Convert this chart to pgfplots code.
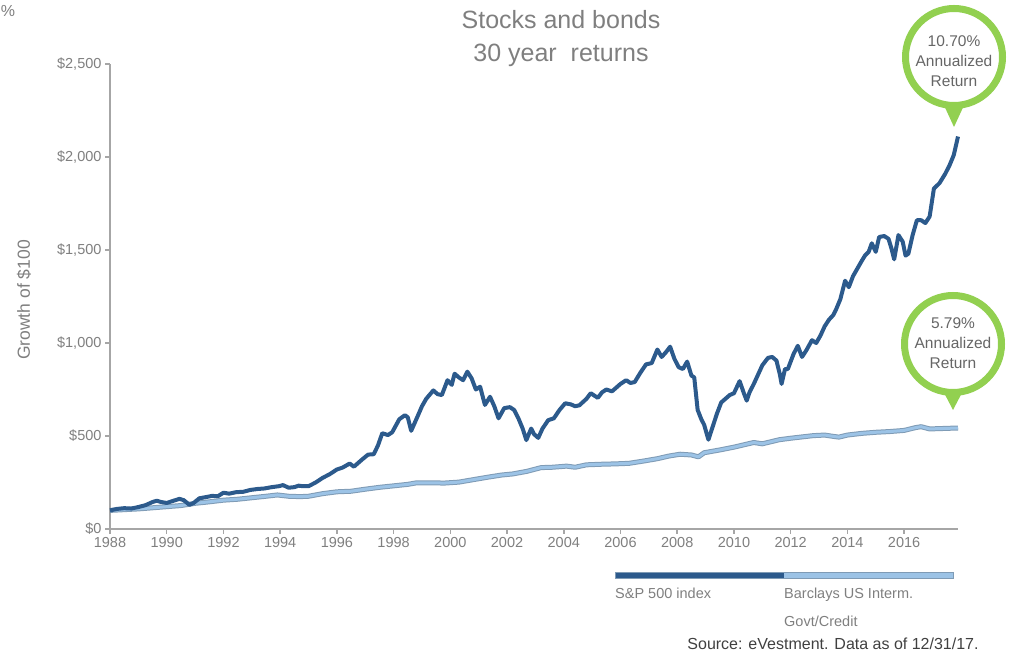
\documentclass[border=0pt]{standalone}
\usepackage{pgfplots}
\usepackage{pgfplotstable}
\pgfplotsset{compat=1.18}
\usepackage{fontspec}
\setmainfont{Liberation Sans}
\definecolor{axisgray}{HTML}{A6A6A6}
\definecolor{labelgray}{HTML}{7F7F7F}
\definecolor{circtext}{HTML}{666666}
\definecolor{srctext}{HTML}{404040}
\definecolor{spblue}{HTML}{2C5A8C}
\definecolor{bondfill}{HTML}{9CC3E6}
\definecolor{bondedge}{HTML}{7F9BB5}
\definecolor{callgreen}{HTML}{92D050}

\pgfplotstableread{
x y
1988.0 100
1988.25 108
1988.5 112
1988.75 110
1989.0 118
1989.25 128
1989.5 145
1989.65 152
1989.8 145
1990.0 140
1990.2 150
1990.45 162
1990.6 155
1990.8 130
1990.95 140
1991.15 165
1991.4 172
1991.6 178
1991.8 176
1992.0 195
1992.2 190
1992.45 198
1992.7 200
1992.95 210
1993.2 215
1993.45 218
1993.7 225
1993.95 230
1994.1 236
1994.3 222
1994.5 225
1994.65 233
1994.8 230
1995.0 230
1995.25 250
1995.5 275
1995.75 295
1996.0 320
1996.2 330
1996.45 352
1996.6 335
1996.9 375
1997.1 400
1997.3 402
1997.45 450
1997.6 515
1997.8 505
1997.95 520
1998.2 590
1998.4 612
1998.5 600
1998.62 528
1998.8 590
1999.0 660
1999.15 700
1999.4 745
1999.55 725
1999.7 720
1999.9 800
2000.05 775
2000.15 835
2000.3 815
2000.45 800
2000.6 846
2000.75 810
2000.9 750
2001.05 765
2001.22 667
2001.4 711
2001.55 660
2001.7 595
2001.9 650
2002.1 655
2002.25 640
2002.4 595
2002.55 540
2002.68 478
2002.85 540
2002.95 510
2003.1 490
2003.25 540
2003.45 585
2003.65 595
2003.85 640
2004.05 676
2004.25 670
2004.4 660
2004.55 665
2004.8 700
2004.95 730
2005.2 705
2005.35 735
2005.5 750
2005.7 740
2005.85 760
2006.0 780
2006.2 800
2006.35 785
2006.5 790
2006.7 840
2006.9 885
2007.1 892
2007.3 965
2007.45 925
2007.6 950
2007.75 980
2007.9 915
2008.05 870
2008.2 860
2008.35 900
2008.5 825
2008.6 815
2008.72 640
2008.85 590
2008.95 560
2009.1 480
2009.25 550
2009.4 620
2009.55 680
2009.7 700
2009.85 720
2010.0 730
2010.2 795
2010.35 730
2010.45 690
2010.55 735
2010.7 780
2010.85 830
2011.0 880
2011.2 920
2011.35 925
2011.5 905
2011.62 830
2011.68 780
2011.8 860
2011.9 860
2012.1 940
2012.25 985
2012.4 925
2012.55 960
2012.75 1015
2012.9 1000
2013.05 1040
2013.2 1090
2013.35 1125
2013.5 1150
2013.6 1180
2013.75 1235
2013.92 1335
2014.05 1300
2014.2 1360
2014.35 1400
2014.5 1440
2014.62 1470
2014.75 1490
2014.86 1536
2015.0 1490
2015.12 1570
2015.3 1575
2015.45 1560
2015.55 1510
2015.65 1450
2015.8 1580
2015.95 1545
2016.05 1470
2016.15 1480
2016.3 1580
2016.45 1660
2016.6 1660
2016.75 1645
2016.9 1680
2017.05 1830
2017.25 1860
2017.45 1910
2017.6 1955
2017.75 2010
2017.9 2110
}\spdata

\pgfplotstableread{
x y
1988.0 100
1988.5 104
1989.0 108
1989.5 114
1990.0 120
1990.5 126
1991.0 138
1991.5 146
1992.0 155
1992.5 160
1993.0 168
1993.5 176
1993.9 183
1994.3 176
1994.7 174
1995.0 176
1995.5 190
1996.0 200
1996.5 203
1997.0 214
1997.5 224
1998.0 232
1998.5 240
1998.8 248
1999.3 248
1999.8 247
2000.3 252
2000.8 265
2001.3 278
2001.8 290
2002.2 296
2002.7 310
2003.2 330
2003.6 332
2004.1 338
2004.4 332
2004.8 345
2005.3 348
2005.8 350
2006.3 353
2006.8 365
2007.3 378
2007.7 392
2008.1 402
2008.5 398
2008.75 388
2008.95 410
2009.5 425
2010.0 440
2010.5 458
2010.7 465
2011.0 458
2011.6 480
2012.0 488
2012.4 495
2012.8 502
2013.2 505
2013.5 498
2013.7 494
2014.0 505
2014.5 514
2015.0 520
2015.5 524
2016.0 530
2016.4 545
2016.6 550
2016.9 538
2017.3 540
2017.9 543
}\bonddata

\begin{document}
\begin{tikzpicture}[x=1pt,y=1pt]
\path[use as bounding box] (0,0) rectangle (1015,653);
\begin{axis}[
  at={(110pt,124pt)}, anchor=south west,
  scale only axis, width=848pt, height=465pt,
  xmin=1988, xmax=2017.9, ymin=0, ymax=2500,
  axis x line*=bottom, axis y line*=left,
  axis line style={draw=axisgray, line width=1.5pt, -},
  xtick={1988,1990,...,2016},
  xticklabels={1988,1990,1992,1994,1996,1998,2000,2002,2004,2006,2008,2010,2012,2014,2016},
  ytick={0,500,1000,1500,2000,2500},
  yticklabels={\$0,\$500,{\$1,000},{\$1,500},{\$2,000},{\$2,500}},
  tick align=outside, major tick length=5pt,
  tick style={draw=axisgray, line width=1.5pt},
  tick label style={font=\fontsize{14.5}{16}\selectfont, text=labelgray},
  clip=false,
]
\addplot[draw=bondedge, line width=5pt, line join=round] table[x=x,y=y] {\bonddata};
\addplot[draw=bondfill, line width=3pt, line join=round] table[x=x,y=y] {\bonddata};
\addplot[draw=spblue, line width=4pt, line join=round] table[x=x,y=y] {\spdata};
\end{axis}

% partial % at top-left
\node[text=labelgray, font=\fontsize{16}{20}\selectfont] at (8,642) {\%};
% title
\node[text=labelgray, font=\fontsize{25}{33}\selectfont, align=center] at (561,614) {Stocks and bonds\\30 year\ \ returns};
% y label
\node[text=labelgray, font=\fontsize{17.5}{20}\selectfont, rotate=90] at (24,353) {Growth of \$100};

% callout 1
\fill[callgreen] (942,552) -- (966,552) -- (954,526) -- cycle;
\draw[callgreen, line width=7pt, fill=white] (954,596) circle (48.5);
\node[text=circtext, font=\fontsize{15.5}{20}\selectfont, align=center] at (954,592) {10.70\%\\Annualized\\Return};
% callout 2
\fill[callgreen] (941,266) -- (965,266) -- (953,243) -- cycle;
\draw[callgreen, line width=7pt, fill=white] (953,309) circle (48.5);
\node[text=circtext, font=\fontsize{15.5}{20}\selectfont, align=center] at (953,310) {5.79\%\\Annualized\\Return};

% legend bar
\fill[spblue] (615,75) rectangle (784,81);
\fill[bondfill] (784,75) rectangle (953,81);
\draw[bondedge, line width=0.6pt] (615,75) rectangle (953,81);
\node[anchor=north west, inner sep=0pt, text=labelgray, font=\fontsize{14.5}{28}\selectfont] at (615,65) {S\&P 500 index};
\node[anchor=north west, inner sep=0pt, text=labelgray, font=\fontsize{14.5}{28}\selectfont, align=left] at (784,65) {Barclays US Interm.\\Govt/Credit};
% source
\node[text=srctext, font=\fontsize{16}{18}\selectfont] at (833,9) {Source: eVestment. Data as of 12/31/17.};
\end{tikzpicture}
\end{document}
